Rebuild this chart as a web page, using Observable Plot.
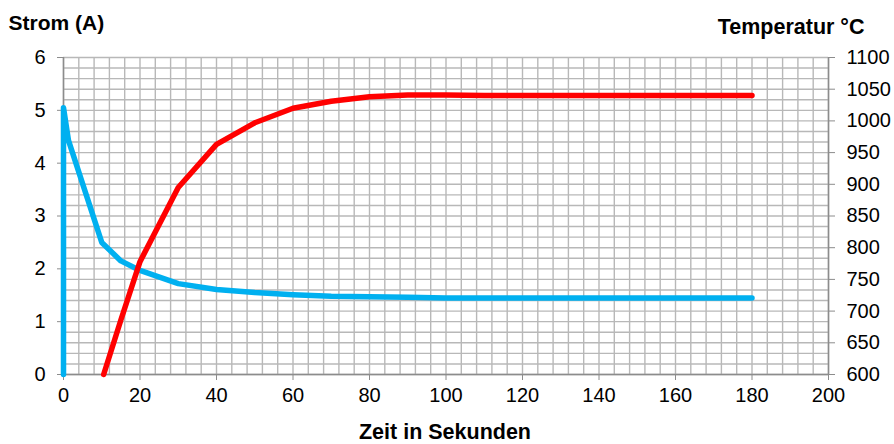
<!DOCTYPE html>
<html>
<head>
<meta charset="utf-8">
<script src="https://cdn.jsdelivr.net/npm/d3@7"></script>
<script src="https://cdn.jsdelivr.net/npm/@observablehq/plot@0.6"></script>
<style>
  html, body { margin: 0; padding: 0; background: #fff; }
</style>
</head>
<body>
<div id="chart"></div>
<script>
// Data
const stromZeit = [0, 0, 1.3, 10, 15, 20, 30, 40, 50, 60, 70, 80, 90, 100, 110, 120, 140, 160, 180];
const stromWerte = [0, 5.05, 4.43, 2.5, 2.15, 1.97, 1.72, 1.61, 1.55, 1.51, 1.48, 1.47, 1.46, 1.45, 1.45, 1.45, 1.45, 1.45, 1.45];
const tempZeit = [10.5, 15, 20, 30, 40, 50, 60, 70, 80, 90, 100, 110, 120, 140, 160, 180];
const tempWerte = [600, 686, 778, 895, 963, 997, 1020, 1031, 1038, 1041, 1041, 1040, 1040, 1040, 1040, 1040];
const xTicks = [0, 20, 40, 60, 80, 100, 120, 140, 160, 180, 200];
const stromTicks = [0, 1, 2, 3, 4, 5, 6];
const tempTicks = [600, 650, 700, 750, 800, 850, 900, 950, 1000, 1050, 1100];
const titelLinks = "Strom (A)";
const titelRechts = "Temperatur °C";
const titelX = "Zeit in Sekunden";

const tMin = 600, tMax = 1100, aMax = 6;
const toA = t => (t - tMin) / (tMax - tMin) * aMax;
const fromA = a => String(Math.round(tMin + a / aMax * (tMax - tMin)));

const strom = stromZeit.map((x, i) => ({x, y: stromWerte[i]}));
const temp = tempZeit.map((x, i) => ({x, y: toA(tempWerte[i])}));

const gridColor = "#b8b8b8";
const axisColor = "#8c8c8c";

const chart = Plot.plot({
  width: 894,
  height: 444,
  marginLeft: 63,
  marginRight: 66,
  marginTop: 57,
  marginBottom: 70,
  style: {fontFamily: "'Liberation Sans', Arial, sans-serif", fontSize: "20px", background: "#fff", color: "#000"},
  x: {domain: [0, 200]},
  y: {domain: [0, 6]},
  marks: [
    Plot.gridX(d3.range(0, 201, 4), {stroke: gridColor, strokeOpacity: 1, strokeWidth: 1.4}),
    Plot.gridY(d3.range(0, 30.5, 1).map(d => d * 0.2), {stroke: gridColor, strokeOpacity: 1, strokeWidth: 1.4}),
    Plot.ruleX([0, 200], {stroke: axisColor, strokeWidth: 1.5}),
    Plot.ruleY([0], {stroke: axisColor, strokeWidth: 1.5}),
    Plot.axisX(xTicks, {tickSize: 6, tickPadding: 7, stroke: axisColor, fill: "#000", label: null, fontSize: 20, tickFormat: d => String(d)}),
    Plot.axisY(stromTicks, {anchor: "left", tickSize: 6, tickPadding: 12, stroke: axisColor, fill: "#000", label: null, fontSize: 20, tickFormat: d => String(d)}),
    Plot.axisY(tempTicks.map(toA), {anchor: "right", tickSize: 6, tickPadding: 12, stroke: axisColor, fill: "#000", label: null, fontSize: 20, tickFormat: fromA}),
    Plot.line(strom, {x: "x", y: "y", stroke: "#00b0f0", strokeWidth: 5.5, strokeLinejoin: "round", strokeLinecap: "round"}),
    Plot.line(temp, {x: "x", y: "y", stroke: "#ff0000", strokeWidth: 5.5, strokeLinejoin: "round", strokeLinecap: "round"}),
    Plot.text([titelLinks], {frameAnchor: "top-left", textAnchor: "start", lineAnchor: "bottom", dx: -55, dy: -28, fontWeight: "bold", fontSize: 21, fill: "#000"}),
    Plot.text([titelRechts], {frameAnchor: "top-right", textAnchor: "end", lineAnchor: "bottom", dx: 36, dy: -24, fontWeight: "bold", fontSize: 21.5, fill: "#000"}),
    Plot.text([titelX], {frameAnchor: "bottom", textAnchor: "middle", lineAnchor: "bottom", dx: -1, dy: 64, fontWeight: "bold", fontSize: 21.5, fill: "#000"})
  ]
});
document.getElementById("chart").appendChild(chart);
</script>
</body>
</html>
